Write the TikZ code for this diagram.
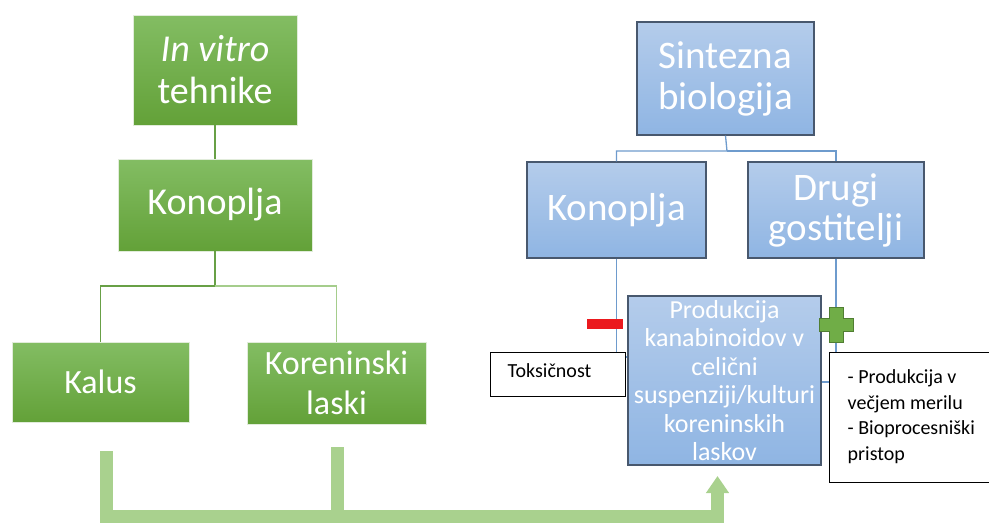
\documentclass[tikz,border=0pt]{standalone}
\usepackage{fontspec}
\setmainfont{Carlito}
\usepackage{tikz}
\usetikzlibrary{arrows.meta}
\definecolor{gtop}{RGB}{131,189,99}
\definecolor{gbot}{RGB}{99,161,56}
\definecolor{btop}{RGB}{180,204,235}
\definecolor{bbot}{RGB}{143,181,227}
\definecolor{bedge}{RGB}{72,88,110}
\definecolor{gline}{RGB}{104,160,70}
\definecolor{glight}{RGB}{165,205,140}
\definecolor{bline}{RGB}{110,155,205}
\definecolor{flow}{RGB}{169,209,142}
\definecolor{plusfill}{RGB}{112,173,71}
\definecolor{plusedge}{RGB}{80,126,50}
\definecolor{minusred}{RGB}{235,25,30}
\tikzstyle{gbox} = [rectangle, draw=white!80!gline, line width=0.6pt, top color=gtop, bottom color=gbot, text=white, align=center, inner sep=0pt]
\tikzstyle{bbox} = [rectangle, draw=bedge, line width=1.2pt, top color=btop, bottom color=bbot, text=white, align=center, inner sep=0pt]
\tikzstyle{wbox} = [rectangle, draw=black, line width=1pt, fill=white, inner sep=0pt]
\tikzstyle{small} = [inner sep=0pt, font=\fontsize{20}{25.5}\selectfont, align=left]
\tikzstyle{flowline} = [draw=flow, line width=13pt]

\begin{document}
\begin{tikzpicture}[x=1pt,y=-1pt]
			\useasboundingbox (0,0) rectangle (989,523);
			\clip (0,0) rectangle (989,523);
			% left tree
			\node[gbox, minimum width=164, minimum height=110, font=\fontsize{38}{42}\selectfont] (vitro) at (215,70) {\textit{In vitro}\\tehnike};
			\node[gbox, minimum width=194, minimum height=92, font=\fontsize{38}{42}\selectfont] (gkono) at (215,205) {Konoplja};
			\node[gbox, minimum width=177, minimum height=80, font=\fontsize{34}{40}\selectfont] (kalus) at (100.5,382) {Kalus};
			\node[gbox, minimum width=179, minimum height=82, font=\fontsize{34}{40}\selectfont] (korlas) at (336.5,383) {Koreninski\\laski};
			\draw[gline, line width=1.3pt] (vitro) -- (gkono);
			\draw[gline, line width=1.3pt] (gkono.south) -- (215,286) -| (kalus.north);
			\draw[glight, line width=1.3pt] (215,286) -| (korlas.north);
			% right tree
			\node[bbox, minimum width=177, minimum height=113, font=\fontsize{39}{41}\selectfont] (sint) at (725.5,78.5) {Sintezna\\biologija};
			\node[bbox, minimum width=179, minimum height=96, font=\fontsize{39}{41}\selectfont] (bkono) at (616.5,210) {Konoplja};
			\node[bbox, minimum width=176, minimum height=96, font=\fontsize{39}{40}\selectfont] (drugi) at (836,210) {Drugi\\gostitelji};
			\node[bbox, minimum width=193, minimum height=169, font=\fontsize{26}{28.5}\selectfont] (prod) at (724.5,380.5) {Produkcija\\kanabinoidov v\\celični\\suspenziji/kulturi\\koreninskih\\laskov};
			\draw[bline, line width=1.3pt] (sint.south) -- (727,151) -| (bkono.north);
			\draw[bline, line width=1.3pt] (727,151) -| (drugi.north);
			\draw[bline, line width=1.3pt] (bkono.south) |- ([yshift=23.5pt]prod.west);
			\draw[bline, line width=1.3pt] (drugi.south) |- ([yshift=-1.5pt]prod.east);
			% minus and plus
			\fill[minusred] (587,319) rectangle (623,329);
			\draw[plusedge, fill=plusfill, line width=1pt] (829,307) -- (843,307) -- (843,318) -- (853,318) -- (853,331) -- (843,331) -- (843,342) -- (829,342) -- (829,331) -- (819,331) -- (819,318) -- (829,318) -- cycle;
			% text boxes
			\node[wbox, minimum width=135, minimum height=44] (toks) at (557.5,374) {};
			\node[small, anchor=base west] (tokstxt) at ([xshift=18pt,yshift=-26pt]toks.north west) {Toksičnost};
			\node[wbox, minimum width=175, minimum height=130] (adv) at (916.5,417) {};
			\node[small, anchor=north west] (advtxt) at ([xshift=19pt,yshift=-18pt]adv.north west) {- Produkcija v\\večjem merilu\\- Bioprocesniški\\pristop};
			% flow arrow
			\coordinate (kalusout) at (106.5,451);
			\coordinate (korlasout) at (337.5,447);
			\coordinate (prodin) at (717.5,476);
			\draw[flowline] (korlasout) -- ++(0,69);
			\draw[flowline, -{Triangle[width=22pt,length=17pt]}] (kalusout) -- ++(0,65) -| (prodin);
		\end{tikzpicture}
\end{document}
